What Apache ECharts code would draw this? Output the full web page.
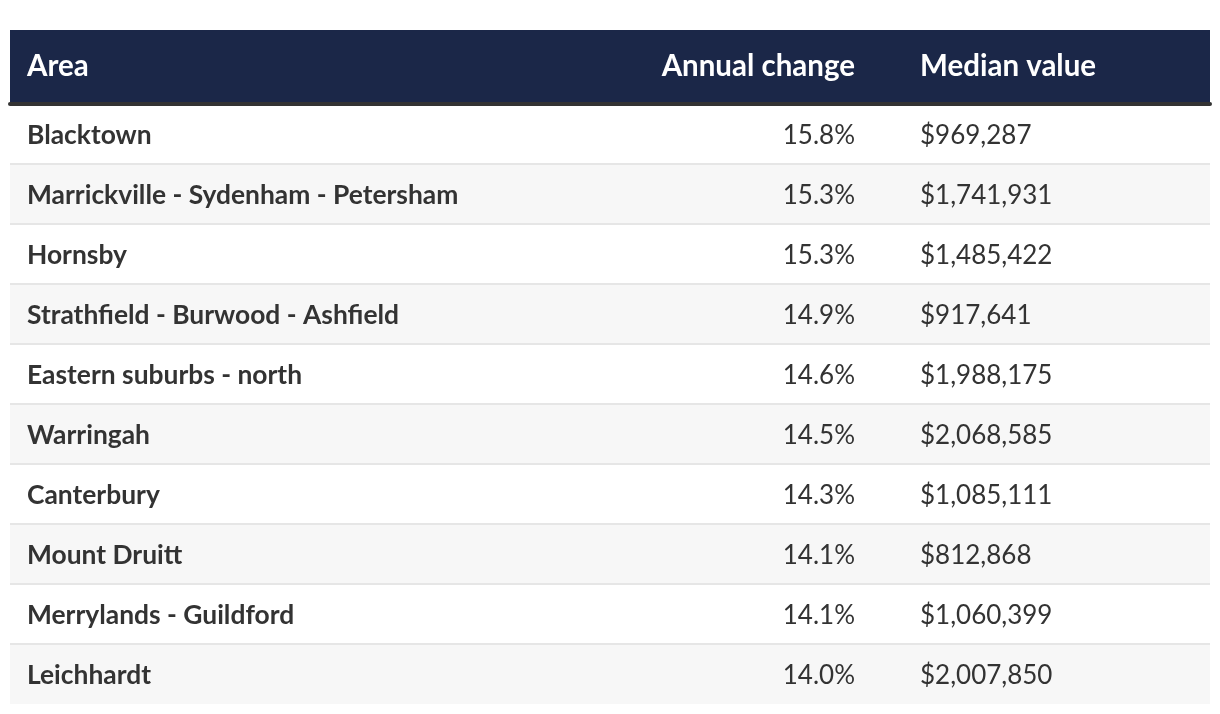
<!DOCTYPE html>
<html>
<head>
<meta charset="utf-8">
<script src="https://cdn.jsdelivr.net/npm/echarts@6/dist/echarts.min.js"></script>
<style>html,body{margin:0;padding:0;background:#fff}#c{width:1220px;height:714px}</style>
</head>
<body>
<div id="c"></div>
<script>
const headers = ['Area', 'Annual change', 'Median value'];
const areas = ['Blacktown', 'Marrickville - Sydenham - Petersham', 'Hornsby', 'Strathfield - Burwood - Ashfield', 'Eastern suburbs - north', 'Warringah', 'Canterbury', 'Mount Druitt', 'Merrylands - Guildford', 'Leichhardt'];
const annualChange = ['15.8%', '15.3%', '15.3%', '14.9%', '14.6%', '14.5%', '14.3%', '14.1%', '14.1%', '14.0%'];
const medianValue = ['$969,287', '$1,741,931', '$1,485,422', '$917,641', '$1,988,175', '$2,068,585', '$1,085,111', '$812,868', '$1,060,399', '$2,007,850'];

const FONT = 'Lato';
const FS = 26;
const FSB = 26.4;
const FSH = 29.5;
// column anchors in x-axis units (0..1200 across the table)
const colArea = 17, colAnnual = 845, colMedian = 910;

const sepColors = areas.map(() => '#e6e6e6').concat(['rgba(0,0,0,0)']);

const chart = echarts.init(document.getElementById('c'), null, {renderer: 'canvas'});
chart.setOption({
  animation: false,
  grid: [
    {left: 10, width: 1200, top: 30, height: 72, show: true, backgroundColor: '#1b2748', borderWidth: 0},
    {left: 10, width: 1200, top: 104, height: 600, show: false}
  ],
  xAxis: [
    {gridIndex: 0, type: 'value', min: 0, max: 1200, show: false},
    {gridIndex: 1, type: 'value', min: 0, max: 1200, position: 'top', axisLine: {show: true, onZero: false, lineStyle: {color: '#333', width: 4}}, axisTick: {show: false}, axisLabel: {show: false}, splitLine: {show: false}}
  ],
  yAxis: [
    {gridIndex: 0, type: 'category', data: ['header'], show: false},
    {gridIndex: 1, type: 'category', data: areas, inverse: true, boundaryGap: true,
     axisLine: {show: false}, axisTick: {show: false}, axisLabel: {show: false},
     splitArea: {show: true, areaStyle: {color: ['#ffffff', '#f7f7f7']}},
     splitLine: {show: true, lineStyle: {color: sepColors, width: 2}}}
  ],
  series: [
    {
      type: 'custom', xAxisIndex: 0, yAxisIndex: 0,
      data: [[0, 'header']],
      renderItem: function (params, api) {
        const y = api.coord([0, 'header'])[1] + 0.5;
        const style = {fill: '#ffffff', font: 'bold ' + FSH + 'px ' + FONT, textVerticalAlign: 'middle'};
        return {type: 'group', children: [
          {type: 'text', x: api.coord([colArea, 0])[0], y: y, style: Object.assign({text: headers[0], textAlign: 'left'}, style)},
          {type: 'text', x: api.coord([colAnnual, 0])[0], y: y, style: Object.assign({text: headers[1], textAlign: 'right'}, style)},
          {type: 'text', x: api.coord([colMedian, 0])[0], y: y, style: Object.assign({text: headers[2], textAlign: 'left'}, style)}
        ]};
      }
    },
    {
      type: 'custom', xAxisIndex: 1, yAxisIndex: 1,
      data: areas.map((a, i) => [0, a, annualChange[i], medianValue[i]]),
      renderItem: function (params, api) {
        const i = params.dataIndex;
        const y = api.coord([0, areas[i]])[1] + 1.5;
        return {type: 'group', children: [
          {type: 'text', x: api.coord([colArea, 0])[0], y: y, style: {text: areas[i], textAlign: 'left', textVerticalAlign: 'middle', fill: '#333333', font: 'bold ' + FSB + 'px ' + FONT}},
          {type: 'text', x: api.coord([colAnnual, 0])[0], y: y, style: {text: annualChange[i], textAlign: 'right', textVerticalAlign: 'middle', fill: '#333333', font: 'normal ' + FS + 'px ' + FONT}},
          {type: 'text', x: api.coord([colMedian, 0])[0], y: y, style: {text: medianValue[i], textAlign: 'left', textVerticalAlign: 'middle', fill: '#333333', font: 'normal ' + FS + 'px ' + FONT}}
        ]};
      }
    }
  ]
});
</script>
</body>
</html>
